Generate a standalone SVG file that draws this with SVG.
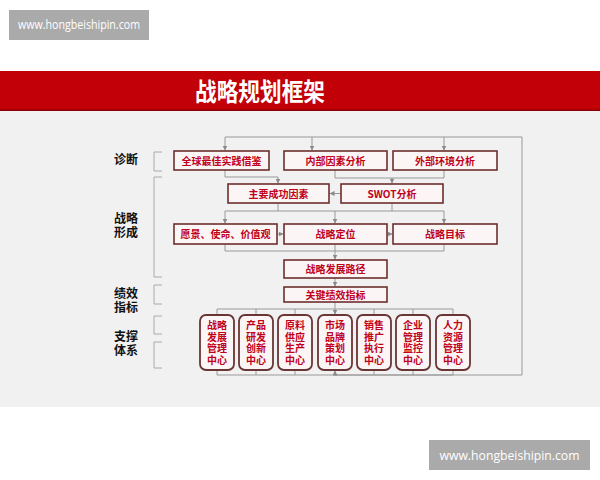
<svg xmlns="http://www.w3.org/2000/svg" width="600" height="480" viewBox="0 0 600 480">
<defs>
<marker id="ah" viewBox="0 0 6 6" refX="6" refY="3" markerWidth="5" markerHeight="5" orient="auto" markerUnits="userSpaceOnUse">
<path d="M0,0 L6,3 L0,6 z" fill="#8a8a8a"/>
</marker>
<style>
.wm{fill:#aaaaaa}
.wmt{fill:#ffffff;font-family:"Open Sans","DejaVu Sans",sans-serif;font-size:12.5px}
.box{fill:#fbf5f5;stroke:#6e2d2d;stroke-width:1.6}
.rbox{fill:#fbf5f5;stroke:#6a3535;stroke-width:1.8}
.bt{fill:#c0001a;font-family:"Noto Sans CJK SC","Noto Sans",sans-serif;font-size:10px;font-weight:bold;text-anchor:middle}
.vt{fill:#c0001a;font-family:"Liberation Sans","Noto Sans CJK SC",sans-serif;font-size:10px;font-weight:bold;text-anchor:middle}
.lab{fill:#111111;font-family:"Liberation Sans","Noto Sans CJK SC",sans-serif;font-size:12px;font-weight:bold;text-anchor:middle}
.ln{fill:none;stroke:#999999;stroke-width:1}
.ar{fill:none;stroke:#999999;stroke-width:1;marker-end:url(#ah)}
.br{fill:none;stroke:#aaaaaa;stroke-width:1}
</style>
</defs>
<rect width="600" height="480" fill="#ffffff"/>
<rect x="0" y="111" width="600" height="296" fill="#f1f1f1"/>
<rect x="0" y="71" width="600" height="40" fill="#c10008"/>
<rect x="0" y="109.5" width="600" height="1.5" fill="#8a0005"/>
<text x="260" y="101" fill="#ffffff" font-family="Noto Sans CJK SC,sans-serif" font-size="25" font-weight="bold" text-anchor="middle" textLength="130" lengthAdjust="spacingAndGlyphs">战略规划框架</text>
<g id="watermark-top"><rect class="wm" x="9" y="10" width="140" height="30"/><text class="wmt" x="79" y="29" text-anchor="middle" font-size="11.3" textLength="122" lengthAdjust="spacingAndGlyphs">www.hongbeishipin.com</text></g>
<g id="watermark-bottom"><rect class="wm" x="429" y="440" width="161" height="30"/><text class="wmt" x="509.5" y="459.5" text-anchor="middle" font-size="13" textLength="140" lengthAdjust="spacingAndGlyphs">www.hongbeishipin.com</text></g>
<g id="side-labels">
<text class="lab" x="126" y="164">诊断</text>
<text class="lab" x="126" y="223">战略</text>
<text class="lab" x="126" y="237">形成</text>
<text class="lab" x="126" y="298">绩效</text>
<text class="lab" x="126" y="312">指标</text>
<text class="lab" x="126" y="341">支撑</text>
<text class="lab" x="126" y="355">体系</text>
<path class="br" d="M162,152 H154 V171 H162"/>
<path class="br" d="M162,177 H154 V277 H162"/>
<path class="br" d="M162,285 H154 V304 H162"/>
<path class="br" d="M162,316 H154 V334 H162"/>
<path class="br" d="M162,342 H154 V368 H162"/>
</g>
<g id="connectors">
<path class="ln" d="M335,375 H522 V137 H225"/>
<path class="ar" d="M225,137 V150.5"/>
<path class="ar" d="M312,137 V150.5"/>
<path class="ar" d="M444,137 V150.5"/>
<path class="ln" d="M225,170 V177 H278"/>
<path class="ar" d="M278,177 V183.5"/>
<path class="ln" d="M335,170 V178 H444 V170"/>
<path class="ar" d="M392,178 V183.5"/>
<path class="ar" d="M341,193.5 H329.5"/>
<path class="ln" d="M278,203 V211 M392,203 V211 M225,211 H444"/>
<path class="ar" d="M225,211 V223.5"/>
<path class="ar" d="M335,211 V223.5"/>
<path class="ar" d="M444,211 V223.5"/>
<path class="ar" d="M277,234 H283.5"/>
<path class="ar" d="M387,234 H392.5"/>
<path class="ln" d="M225,244 V251 H444 V244"/>
<path class="ar" d="M335,244 V259.5"/>
<path class="ar" d="M335,278 V286.5"/>
<path class="ln" d="M335,302 V309 M217,309 H453"/>
<path class="ln" d="M217,309 V315 M256,309 V315 M295,309 V315 M374,309 V315 M413,309 V315 M453,309 V315"/>
<path class="ar" d="M335,309 V314.5"/>
<path class="ln" d="M217,370 V375 H335 M256,370 V375 M295,370 V375 M374,370 V375 M413,370 V375 M453,370 V375 H335"/>
<path class="ar" d="M335,375 V370.5"/>
</g>
<g id="n-best"><rect class="box" x="174" y="151" width="95" height="19"/><text class="bt" x="221.5" y="164.5">全球最佳实践借鉴</text></g>
<g id="n-internal"><rect class="box" x="284" y="151" width="103" height="19"/><text class="bt" x="335.5" y="164.5">内部因素分析</text></g>
<g id="n-external"><rect class="box" x="393" y="151" width="104" height="19"/><text class="bt" x="445" y="164.5">外部环境分析</text></g>
<g id="n-ksf"><rect class="box" x="228" y="184" width="101" height="19"/><text class="bt" x="278.5" y="197.5">主要成功因素</text></g>
<g id="n-swot"><rect class="box" x="341" y="184" width="102" height="19"/><text class="bt" x="392" y="197.5">SWOT分析</text></g>
<g id="n-vision"><rect class="box" x="174" y="224" width="103" height="20"/><text class="bt" x="225.5" y="238">愿景、使命、价值观</text></g>
<g id="n-position"><rect class="box" x="284" y="224" width="103" height="20"/><text class="bt" x="335.5" y="238">战略定位</text></g>
<g id="n-goal"><rect class="box" x="393" y="224" width="104" height="20"/><text class="bt" x="445" y="238">战略目标</text></g>
<g id="n-path"><rect class="box" x="284" y="260" width="103" height="18"/><text class="bt" x="335.5" y="273">战略发展路径</text></g>
<g id="n-kpi"><rect class="box" x="284" y="287" width="103" height="15"/><text class="bt" x="335.5" y="298.5">关键绩效指标</text></g>
<g id="c1"><rect class="rbox" x="200" y="315" width="34" height="55" rx="6"/><text class="vt" x="217"><tspan x="217" y="329">战略</tspan><tspan x="217" y="340.5">发展</tspan><tspan x="217" y="352">管理</tspan><tspan x="217" y="363.5">中心</tspan></text></g>
<g id="c2"><rect class="rbox" x="239" y="315" width="34" height="55" rx="6"/><text class="vt" x="256"><tspan x="256" y="329">产品</tspan><tspan x="256" y="340.5">研发</tspan><tspan x="256" y="352">创新</tspan><tspan x="256" y="363.5">中心</tspan></text></g>
<g id="c3"><rect class="rbox" x="278" y="315" width="34" height="55" rx="6"/><text class="vt" x="295"><tspan x="295" y="329">原料</tspan><tspan x="295" y="340.5">供应</tspan><tspan x="295" y="352">生产</tspan><tspan x="295" y="363.5">中心</tspan></text></g>
<g id="c4"><rect class="rbox" x="318" y="315" width="34" height="55" rx="6"/><text class="vt" x="335"><tspan x="335" y="329">市场</tspan><tspan x="335" y="340.5">品牌</tspan><tspan x="335" y="352">策划</tspan><tspan x="335" y="363.5">中心</tspan></text></g>
<g id="c5"><rect class="rbox" x="357" y="315" width="34" height="55" rx="6"/><text class="vt" x="374"><tspan x="374" y="329">销售</tspan><tspan x="374" y="340.5">推广</tspan><tspan x="374" y="352">执行</tspan><tspan x="374" y="363.5">中心</tspan></text></g>
<g id="c6"><rect class="rbox" x="396" y="315" width="34" height="55" rx="6"/><text class="vt" x="413"><tspan x="413" y="329">企业</tspan><tspan x="413" y="340.5">管理</tspan><tspan x="413" y="352">监控</tspan><tspan x="413" y="363.5">中心</tspan></text></g>
<g id="c7"><rect class="rbox" x="436" y="315" width="34" height="55" rx="6"/><text class="vt" x="453"><tspan x="453" y="329">人力</tspan><tspan x="453" y="340.5">资源</tspan><tspan x="453" y="352">管理</tspan><tspan x="453" y="363.5">中心</tspan></text></g>
</svg>
